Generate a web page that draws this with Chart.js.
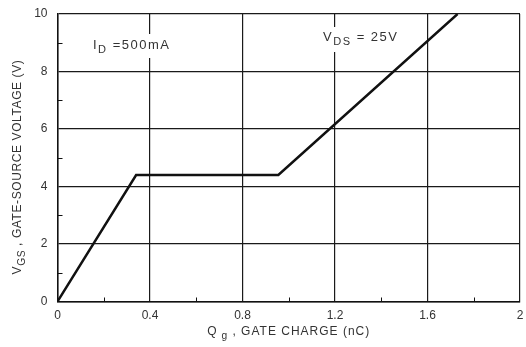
<!DOCTYPE html>
<html>
<head>
<meta charset="utf-8">
<script src="https://cdn.jsdelivr.net/npm/chart.js@4"></script>
<style>
  html, body { margin: 0; padding: 0; background: #fff; }
  #wrap { width: 526px; height: 347px; }
</style>
</head>
<body>
<div id="wrap"><canvas id="chart" width="526" height="347"></canvas></div>
<script>
// Gate charge curve
const gateCharge = [0, 0.34, 0.955, 1.73];   // nC
const gateVoltage = [0, 4.4, 4.4, 10];       // V
const xTickValues = [0, 0.4, 0.8, 1.2, 1.6, 2];
const xMinorTicks = [0.2, 0.6, 1.0, 1.4, 1.8];
const yMinorTicks = [1, 3, 5, 7, 9];

const FONT = '"Liberation Sans", Arial, sans-serif';
const TEXT = '#333';

// draws text with a lowered subscript part, returns end x
function subText(ctx, parts, x, y, size, spacing) {
    let cx = x;
    ctx.letterSpacing = spacing + 'px';
    parts.forEach(p => {
        const s = p.sub ? size * 0.85 : size;
        ctx.font = s + 'px ' + FONT;
        ctx.fillText(p.t, cx, y + (p.sub ? size * 0.35 : 0));
        cx += ctx.measureText(p.t).width;
    });
    ctx.letterSpacing = '0px';
    return cx;
}

function partsWidth(ctx, parts, size, spacing) {
    let w = 0;
    ctx.letterSpacing = spacing + 'px';
    parts.forEach(p => {
        ctx.font = (p.sub ? size * 0.85 : size) + 'px ' + FONT;
        w += ctx.measureText(p.t).width;
    });
    ctx.letterSpacing = '0px';
    return w;
}

const extrasPlugin = {
    id: 'extras',
    beforeDatasetsDraw(chart) {
        const ctx = chart.ctx;
        const xs = chart.scales.x, ys = chart.scales.y;
        const a = chart.chartArea;
        ctx.save();
        ctx.strokeStyle = '#111';
        ctx.lineWidth = 1;
        // minor ticks inside the frame
        xMinorTicks.forEach(v => {
            const px = Math.round(xs.getPixelForValue(v)) + 0.5;
            ctx.beginPath();
            ctx.moveTo(px, a.bottom);
            ctx.lineTo(px, a.bottom - 4);
            ctx.stroke();
        });
        yMinorTicks.forEach(v => {
            const py = Math.round(ys.getPixelForValue(v)) + 0.5;
            ctx.beginPath();
            ctx.moveTo(a.left, py);
            ctx.lineTo(a.left + 5, py);
            ctx.stroke();
        });

        ctx.fillStyle = TEXT;
        ctx.textBaseline = 'middle';
        ctx.textAlign = 'left';

        // I_D label with white box
        const idParts = [{t: 'I'}, {t: 'D', sub: true}, {t: ' =500mA'}];
        ctx.fillStyle = '#fff';
        ctx.fillRect(90, 34, partsWidth(ctx, idParts, 13, 1.5) + 6, 24);
        ctx.fillStyle = TEXT;
        subText(ctx, idParts, 93, 45, 13, 1.5);

        // V_DS label with white box
        const vdsParts = [{t: 'V'}, {t: 'DS', sub: true}, {t: ' = 25V'}];
        ctx.fillStyle = '#fff';
        ctx.fillRect(320, 27, partsWidth(ctx, vdsParts, 13, 1.5) + 6, 25);
        ctx.fillStyle = TEXT;
        subText(ctx, vdsParts, 323, 37, 13, 1.5);

        // x axis title
        const xt = [{t: 'Q'}, {t: ' g', sub: true}, {t: ' , GATE CHARGE (nC)'}];
        const xw = partsWidth(ctx, xt, 12, 1);
        subText(ctx, xt, (a.left + a.right) / 2 - xw / 2, 332, 12, 1);

        // y axis title (rotated)
        const yt = [{t: 'V'}, {t: 'GS', sub: true}, {t: ' , GATE-SOURCE VOLTAGE (V)'}];
        const yw = partsWidth(ctx, yt, 12, 0.6);
        ctx.translate(18, 167);
        ctx.rotate(-Math.PI / 2);
        subText(ctx, yt, -yw / 2, 0, 12, 0.6);
        ctx.restore();
    }
};

new Chart(document.getElementById('chart'), {
    type: 'scatter',
    data: {
        datasets: [{
            data: gateCharge.map((x, i) => ({ x: x, y: gateVoltage[i] })),
            showLine: true,
            borderColor: '#111',
            borderWidth: 2.5,
            pointRadius: 0,
            tension: 0
        }]
    },
    options: {
        responsive: false,
        animation: false,
        layout: { padding: { left: 0, top: 14, right: 6, bottom: 0 } },
        plugins: { legend: { display: false }, tooltip: { enabled: false } },
        scales: {
            x: {
                type: 'linear',
                min: 0, max: 2,
                afterFit: s => { s.height = 45.5; s.paddingRight = 0; s.paddingLeft = 0; },
                afterBuildTicks: s => { s.ticks = xTickValues.map(v => ({ value: v })); },
                ticks: {
                    color: TEXT, padding: 7, font: { family: FONT, size: 12 },
                    callback: v => String(+v.toFixed(1))
                },
                grid: { color: '#1a1a1a', lineWidth: 1.2, drawTicks: false },
                border: { color: '#111', width: 1.5 }
            },
            y: {
                type: 'linear',
                min: 0, max: 10,
                afterFit: s => { s.width = 57.5; s.paddingTop = 0; s.paddingBottom = 0; },
                ticks: { stepSize: 2, color: TEXT, padding: 10, font: { family: FONT, size: 12 } },
                grid: { color: '#1a1a1a', lineWidth: 1.2, drawTicks: false },
                border: { color: '#111', width: 1.5 }
            }
        }
    },
    plugins: [extrasPlugin]
});
</script>
</body>
</html>
